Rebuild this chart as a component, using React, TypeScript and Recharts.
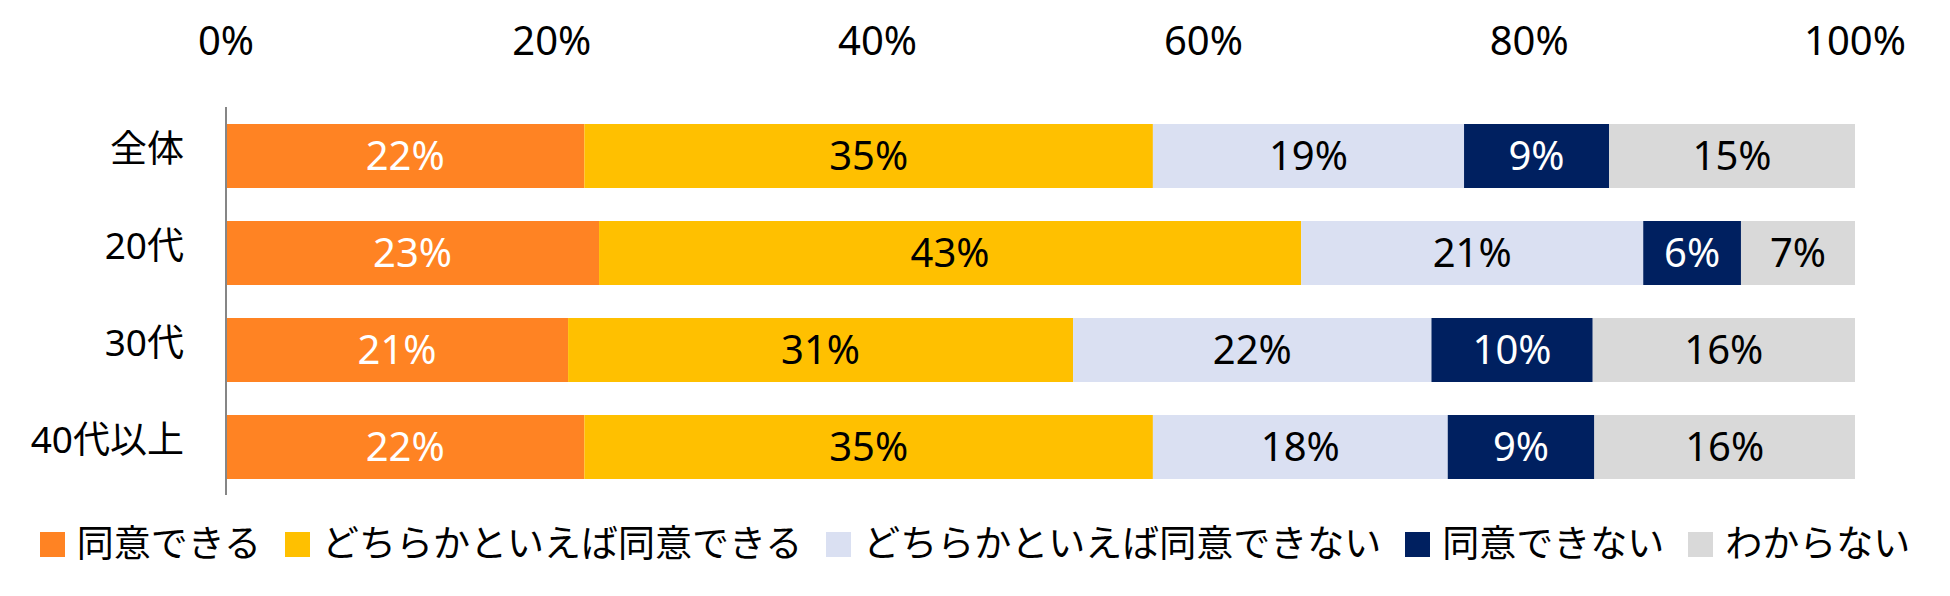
import { BarChart, Bar, XAxis, YAxis, Legend, LabelList } from 'recharts';

const categories = ['全体', '20代', '30代', '40代以上'];
const agree = [22.0, 22.9, 21.0, 22.0];
const ratherAgree = [34.9, 43.1, 31.0, 34.9];
const ratherDisagree = [19.1, 21.0, 22.0, 18.1];
const disagree = [8.9, 6.0, 9.9, 9.0];
const unknown = [15.1, 7.0, 16.1, 16.0];
const xTicks = [0, 20, 40, 60, 80, 100];

const SERIES = [
  { key: 'agree', name: '同意できる', color: '#FF8323', text: '#FFFFFF' },
  { key: 'ratherAgree', name: 'どちらかといえば同意できる', color: '#FFC000', text: '#000000' },
  { key: 'ratherDisagree', name: 'どちらかといえば同意できない', color: '#DAE0F2', text: '#000000' },
  { key: 'disagree', name: '同意できない', color: '#002060', text: '#FFFFFF' },
  { key: 'unknown', name: 'わからない', color: '#D9D9D9', text: '#000000' },
];

const data = categories.map((name, i) => ({
  name,
  agree: agree[i],
  ratherAgree: ratherAgree[i],
  ratherDisagree: ratherDisagree[i],
  disagree: disagree[i],
  unknown: unknown[i],
}));

const pct = (v: any) => `${Math.round(Number(v))}%`;

// keep the series order (recharts sorts legend payload by default)
const renderLegend = (props: any) => {
  const payload = [...(props.payload || [])].sort(
    (a: any, b: any) =>
      SERIES.findIndex((s) => s.name === a.value) - SERIES.findIndex((s) => s.name === b.value)
  );
  return (
    <div
      style={{
        height: 101,
        boxSizing: 'border-box',
        paddingBottom: 10,
        display: 'flex',
        alignItems: 'center',
        justifyContent: 'center',
        fontFamily: '"Noto Sans CJK JP"',
        fontSize: 37,
        color: '#000',
      }}
    >
      {payload.map((entry: any, i: number) => (
        <div
          key={entry.value}
          style={{ display: 'flex', alignItems: 'center', marginRight: i < payload.length - 1 ? 24 : 0 }}
        >
          <span style={{ width: 25, height: 25, background: entry.color, marginRight: 12, marginTop: 8 }} />
          <span style={{ lineHeight: '40px', whiteSpace: 'nowrap' }}>{entry.value}</span>
        </div>
      ))}
    </div>
  );
};

export default function App() {
  return (
    <div style={{ position: 'absolute', left: 0, top: 0, background: '#fff' }}>
      <BarChart
        width={1950}
        height={596}
        data={data}
        layout="vertical"
        margin={{ top: 0, right: 95, bottom: 0, left: 0 }}
        barSize={64}
      >
        <XAxis
          type="number"
          orientation="top"
          domain={[0, 100]}
          ticks={xTicks}
          tickFormatter={(v) => `${v}%`}
          axisLine={false}
          tickLine={false}
          tickSize={0}
          tickMargin={52}
          height={107}
          tick={{ fontSize: 40, fill: '#000', fontFamily: '"Noto Sans"' }}
        />
        <YAxis
          type="category"
          dataKey="name"
          width={226}
          tickLine={false}
          tickSize={0}
          tickMargin={42}
          axisLine={{ stroke: '#868686', strokeWidth: 2 }}
          tick={{ fontSize: 37, fill: '#000', fontFamily: '"Noto Sans", "Noto Sans CJK JP"', dy: -7 }}
        />
        <Legend
          verticalAlign="bottom"
          content={renderLegend}
          wrapperStyle={{ left: 0, width: 1950 }}
        />
        {SERIES.map((s) => (
          <Bar key={s.key} dataKey={s.key} name={s.name} stackId="a" fill={s.color} isAnimationActive={false}>
            <LabelList
              dataKey={s.key}
              position="center"
              formatter={pct}
              fill={s.text}
              fontSize={40}
              fontFamily='"Noto Sans"'
            />
          </Bar>
        ))}
      </BarChart>
    </div>
  );
}
